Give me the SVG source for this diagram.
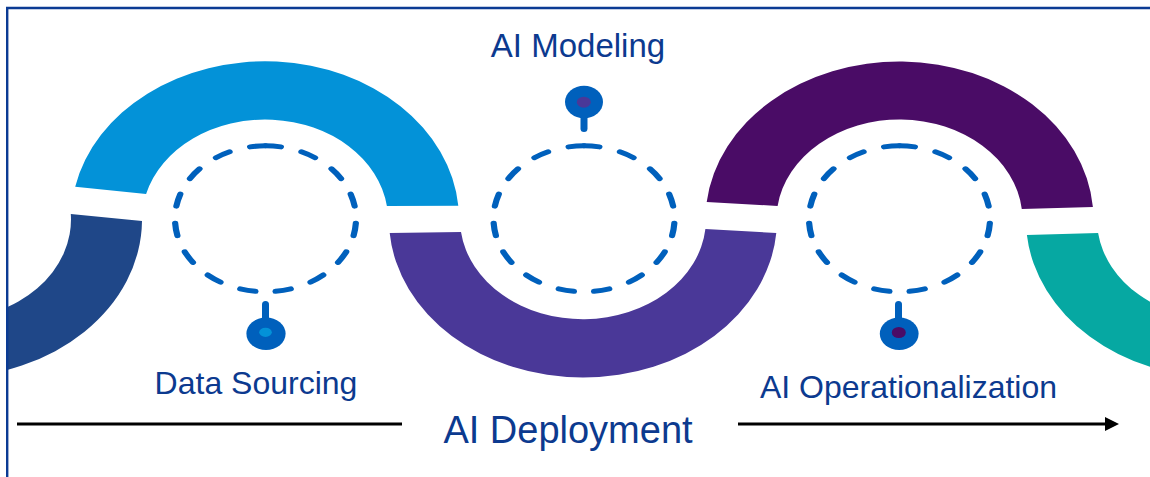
<svg xmlns="http://www.w3.org/2000/svg" width="1150" height="477" viewBox="0 0 1150 477">
  <style>
    .label { font-family: "Liberation Sans", Arial, sans-serif; fill: #0C3A8F; text-anchor: middle; }
    .ring { fill: none; stroke: #0060BC; stroke-width: 5; stroke-linecap: round; stroke-dasharray: 12.5 17.25; }
    .stem { stroke: #0060BC; stroke-width: 7; stroke-linecap: round; }
    .head { fill: #0060BC; }
    .flow { stroke: #000000; stroke-width: 3; fill: none; }
  </style>
  <defs>
    <clipPath id="frameClip">
      <rect x="8" y="9" width="1142" height="468"/>
    </clipPath>
    <marker id="arrowHead" viewBox="0 0 14 14" markerWidth="14" markerHeight="14" refX="5" refY="7" orient="auto" markerUnits="userSpaceOnUse">
      <path d="M0,0 L14,7 L0,14 Z" fill="#000000"/>
    </marker>
    <g id="dashRing">
      <path class="ring" d="M0,-73 A73,73 0 0 1 0,73"/>
      <path class="ring" d="M0,-73 A73,73 0 0 0 0,73"/>
    </g>
  </defs>

  <rect x="0" y="0" width="1150" height="477" fill="#FFFFFF"/>

  <!-- wave bands -->
  <g id="bands" clip-path="url(#frameClip)">
    <path d="M142,221 A194,158 0 0 1 -52,377.5 L-52,319.5 A123,100 0 0 0 70.8,214 Z" fill="#1F4788"/>
    <path d="M75.2,186.7 A194,158 0 0 1 458.3,205.7 L386.9,206 A123,100 0 0 0 146.1,194 Z" fill="#0392D8"/>
    <path d="M389.7,233 A194,158 0 0 0 776.3,233 L705.4,229 A123,100 0 0 1 461,232 Z" fill="#4A3898"/>
    <path d="M706.7,202 A194,158 0 0 1 1092.9,207 L1021.8,209 A123,100 0 0 0 777.6,206 Z" fill="#4A0C66"/>
    <path d="M1026.9,235 A194,158 0 0 0 1220,377.5 L1220,319.5 A123,100 0 0 1 1098.1,233 Z" fill="#06A8A2"/>
  </g>

  <!-- frame -->
  <path d="M7.2,477 V8 H1150" fill="none" stroke="#0B3B94" stroke-width="2.4"/>

  <!-- Data Sourcing -->
  <g id="node-data-sourcing">
    <use href="#dashRing" transform="translate(265.5,218.8) scale(1.24,1)"/>
    <line class="stem" x1="265.5" y1="304.5" x2="265.5" y2="325"/>
    <ellipse class="head" cx="266" cy="333.7" rx="19.6" ry="16.3"/>
    <ellipse cx="265.5" cy="332.3" rx="6.3" ry="4.6" fill="#0392D8"/>
    <text class="label" x="256" y="394" font-size="32">Data Sourcing</text>
  </g>

  <!-- AI Modeling -->
  <g id="node-ai-modeling">
    <use href="#dashRing" transform="translate(584,218.8) scale(1.24,1)"/>
    <line class="stem" x1="584" y1="110" x2="584" y2="128.5"/>
    <ellipse class="head" cx="584" cy="102" rx="19" ry="16.2"/>
    <ellipse cx="583.8" cy="102.2" rx="7" ry="5.5" fill="#4A3898"/>
    <text class="label" x="578" y="57" font-size="33">AI Modeling</text>
  </g>

  <!-- AI Operationalization -->
  <g id="node-ai-operationalization">
    <use href="#dashRing" transform="translate(899.5,218.8) scale(1.24,1)"/>
    <line class="stem" x1="898.5" y1="304.5" x2="898.5" y2="325"/>
    <ellipse class="head" cx="899.2" cy="333.7" rx="19.4" ry="16.3"/>
    <ellipse cx="898.8" cy="332.5" rx="7" ry="5.6" fill="#4A0C66"/>
    <text class="label" x="908.5" y="398" font-size="32">AI Operationalization</text>
  </g>

  <!-- AI Deployment -->
  <g id="node-ai-deployment">
    <text class="label" x="568" y="443" font-size="38">AI Deployment</text>
  </g>

  <!-- connectors -->
  <g id="connectors">
    <line class="flow" x1="17" y1="424" x2="402" y2="424"/>
    <line class="flow" x1="738" y1="424" x2="1110" y2="424" marker-end="url(#arrowHead)"/>
  </g>
</svg>
